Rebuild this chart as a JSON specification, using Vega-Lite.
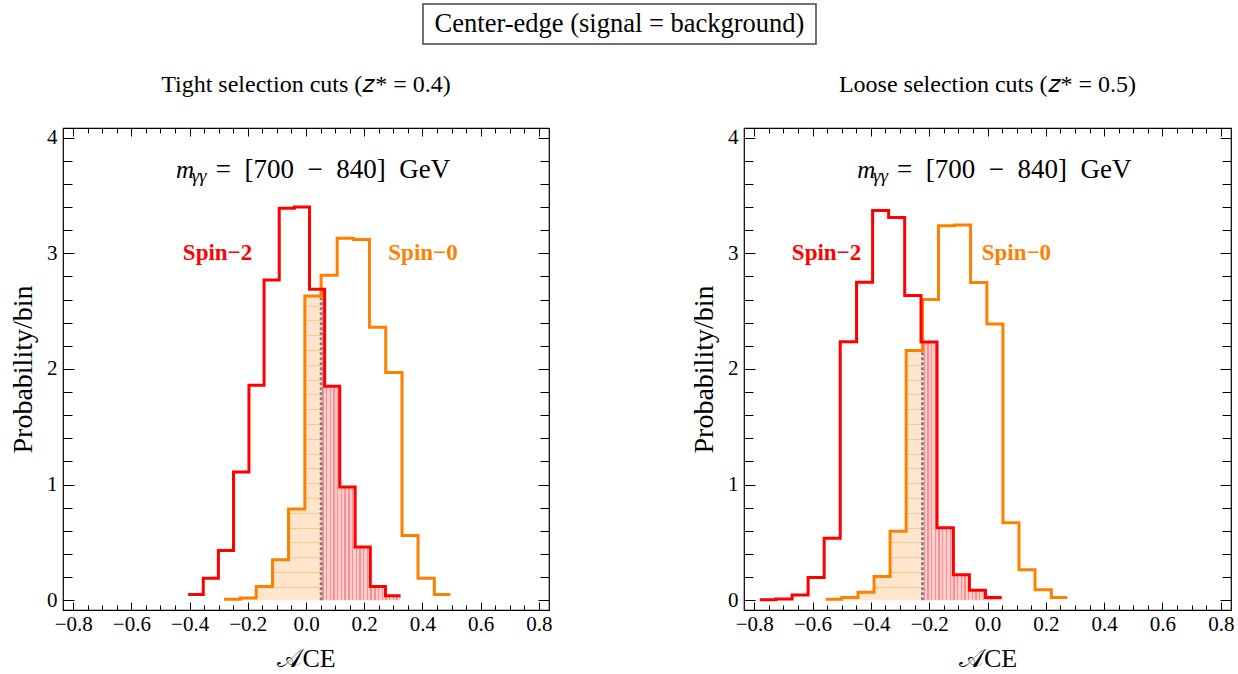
{
  "$schema": "https://vega.github.io/schema/vega-lite/v6.json",
  "background": "white",
  "padding": {"left": 8, "top": 3, "right": 5, "bottom": 0},
  "config": {
    "font": "Liberation Serif",
    "view": {"stroke": "#000", "strokeWidth": 1.2},
    "title": {"font": "Liberation Serif", "fontWeight": "normal", "color": "#000"},
    "axis": {"labelFont": "Liberation Serif", "titleFont": "Liberation Serif", "labelColor": "#000", "titleColor": "#000", "tickColor": "#000", "domain": false, "grid": false, "titleFontWeight": "normal", "labelFlush": false, "labelOverlap": false, "minExtent": 0}
  },
  "datasets": {
    "hist": [
      {"p": "L", "s": "Spin-2", "x": -0.405, "h": 0.05},
      {"p": "L", "s": "Spin-2", "x": -0.353, "h": 0.19},
      {"p": "L", "s": "Spin-2", "x": -0.301, "h": 0.43},
      {"p": "L", "s": "Spin-2", "x": -0.249, "h": 1.11},
      {"p": "L", "s": "Spin-2", "x": -0.196, "h": 1.86},
      {"p": "L", "s": "Spin-2", "x": -0.144, "h": 2.77},
      {"p": "L", "s": "Spin-2", "x": -0.092, "h": 3.39},
      {"p": "L", "s": "Spin-2", "x": -0.040, "h": 3.40},
      {"p": "L", "s": "Spin-2", "x": 0.012, "h": 2.69},
      {"p": "L", "s": "Spin-2", "x": 0.064, "h": 1.85},
      {"p": "L", "s": "Spin-2", "x": 0.116, "h": 0.98},
      {"p": "L", "s": "Spin-2", "x": 0.169, "h": 0.46},
      {"p": "L", "s": "Spin-2", "x": 0.221, "h": 0.12},
      {"p": "L", "s": "Spin-2", "x": 0.273, "h": 0.04},
      {"p": "L", "s": "Spin-2", "x": 0.325, "h": 0.04},
      {"p": "L", "s": "Spin-0", "x": -0.282, "h": 0.01},
      {"p": "L", "s": "Spin-0", "x": -0.226, "h": 0.02},
      {"p": "L", "s": "Spin-0", "x": -0.171, "h": 0.12},
      {"p": "L", "s": "Spin-0", "x": -0.115, "h": 0.35},
      {"p": "L", "s": "Spin-0", "x": -0.060, "h": 0.79},
      {"p": "L", "s": "Spin-0", "x": -0.004, "h": 2.63},
      {"p": "L", "s": "Spin-0", "x": 0.052, "h": 2.81},
      {"p": "L", "s": "Spin-0", "x": 0.107, "h": 3.13},
      {"p": "L", "s": "Spin-0", "x": 0.163, "h": 3.12},
      {"p": "L", "s": "Spin-0", "x": 0.218, "h": 2.36},
      {"p": "L", "s": "Spin-0", "x": 0.274, "h": 1.97},
      {"p": "L", "s": "Spin-0", "x": 0.330, "h": 0.56},
      {"p": "L", "s": "Spin-0", "x": 0.385, "h": 0.19},
      {"p": "L", "s": "Spin-0", "x": 0.441, "h": 0.05},
      {"p": "L", "s": "Spin-0", "x": 0.496, "h": 0.05},
      {"p": "R", "s": "Spin-2", "x": -0.781, "h": 0.005},
      {"p": "R", "s": "Spin-2", "x": -0.726, "h": 0.012},
      {"p": "R", "s": "Spin-2", "x": -0.670, "h": 0.045},
      {"p": "R", "s": "Spin-2", "x": -0.615, "h": 0.197},
      {"p": "R", "s": "Spin-2", "x": -0.560, "h": 0.536},
      {"p": "R", "s": "Spin-2", "x": -0.505, "h": 2.235},
      {"p": "R", "s": "Spin-2", "x": -0.449, "h": 2.75},
      {"p": "R", "s": "Spin-2", "x": -0.394, "h": 3.37},
      {"p": "R", "s": "Spin-2", "x": -0.339, "h": 3.31},
      {"p": "R", "s": "Spin-2", "x": -0.284, "h": 2.635},
      {"p": "R", "s": "Spin-2", "x": -0.228, "h": 2.232},
      {"p": "R", "s": "Spin-2", "x": -0.173, "h": 0.628},
      {"p": "R", "s": "Spin-2", "x": -0.117, "h": 0.22},
      {"p": "R", "s": "Spin-2", "x": -0.062, "h": 0.086},
      {"p": "R", "s": "Spin-2", "x": -0.007, "h": 0.025},
      {"p": "R", "s": "Spin-2", "x": 0.049, "h": 0.025},
      {"p": "R", "s": "Spin-0", "x": -0.555, "h": 0.01},
      {"p": "R", "s": "Spin-0", "x": -0.500, "h": 0.025},
      {"p": "R", "s": "Spin-0", "x": -0.444, "h": 0.07},
      {"p": "R", "s": "Spin-0", "x": -0.389, "h": 0.205},
      {"p": "R", "s": "Spin-0", "x": -0.334, "h": 0.597},
      {"p": "R", "s": "Spin-0", "x": -0.279, "h": 2.16},
      {"p": "R", "s": "Spin-0", "x": -0.223, "h": 2.6},
      {"p": "R", "s": "Spin-0", "x": -0.168, "h": 3.238},
      {"p": "R", "s": "Spin-0", "x": -0.113, "h": 3.245},
      {"p": "R", "s": "Spin-0", "x": -0.058, "h": 2.748},
      {"p": "R", "s": "Spin-0", "x": -0.002, "h": 2.388},
      {"p": "R", "s": "Spin-0", "x": 0.053, "h": 0.67},
      {"p": "R", "s": "Spin-0", "x": 0.108, "h": 0.264},
      {"p": "R", "s": "Spin-0", "x": 0.163, "h": 0.09},
      {"p": "R", "s": "Spin-0", "x": 0.219, "h": 0.025},
      {"p": "R", "s": "Spin-0", "x": 0.274, "h": 0.025}
    ],
    "shade": [
      {"p": "L", "s": "Spin-0", "x": -0.282, "h": 0.01},
      {"p": "L", "s": "Spin-0", "x": -0.226, "h": 0.02},
      {"p": "L", "s": "Spin-0", "x": -0.171, "h": 0.12},
      {"p": "L", "s": "Spin-0", "x": -0.115, "h": 0.35},
      {"p": "L", "s": "Spin-0", "x": -0.060, "h": 0.79},
      {"p": "L", "s": "Spin-0", "x": -0.004, "h": 2.63},
      {"p": "L", "s": "Spin-0", "x": 0.052, "h": 2.63},
      {"p": "L", "s": "Spin-2", "x": 0.052, "h": 2.69},
      {"p": "L", "s": "Spin-2", "x": 0.064, "h": 1.85},
      {"p": "L", "s": "Spin-2", "x": 0.116, "h": 0.98},
      {"p": "L", "s": "Spin-2", "x": 0.169, "h": 0.46},
      {"p": "L", "s": "Spin-2", "x": 0.221, "h": 0.12},
      {"p": "L", "s": "Spin-2", "x": 0.273, "h": 0.04},
      {"p": "L", "s": "Spin-2", "x": 0.325, "h": 0.04},
      {"p": "R", "s": "Spin-0", "x": -0.555, "h": 0.01},
      {"p": "R", "s": "Spin-0", "x": -0.500, "h": 0.025},
      {"p": "R", "s": "Spin-0", "x": -0.444, "h": 0.07},
      {"p": "R", "s": "Spin-0", "x": -0.389, "h": 0.205},
      {"p": "R", "s": "Spin-0", "x": -0.334, "h": 0.597},
      {"p": "R", "s": "Spin-0", "x": -0.279, "h": 2.16},
      {"p": "R", "s": "Spin-0", "x": -0.223, "h": 2.16},
      {"p": "R", "s": "Spin-2", "x": -0.223, "h": 2.232},
      {"p": "R", "s": "Spin-2", "x": -0.173, "h": 0.628},
      {"p": "R", "s": "Spin-2", "x": -0.117, "h": 0.22},
      {"p": "R", "s": "Spin-2", "x": -0.062, "h": 0.086},
      {"p": "R", "s": "Spin-2", "x": -0.007, "h": 0.025},
      {"p": "R", "s": "Spin-2", "x": 0.049, "h": 0.025}
    ],
    "cut": [
      {"p": "L", "x": 0.052, "lo": 0, "top": 2.69},
      {"p": "R", "x": -0.223, "lo": 0, "top": 2.232}
    ],
    "labels": [
      {"p": "L", "s": "Spin-2", "x": -0.304, "y": 3.0, "t": "Spin−2"},
      {"p": "L", "s": "Spin-0", "x": 0.402, "y": 3.0, "t": "Spin−0"},
      {"p": "R", "s": "Spin-2", "x": -0.552, "y": 3.0, "t": "Spin−2"},
      {"p": "R", "s": "Spin-0", "x": 0.099, "y": 3.0, "t": "Spin−0"}
    ],
    "mass": [
      {"p": "L", "k": "m", "x": -0.447, "y": 3.654, "t": "m"},
      {"p": "L", "k": "g", "x": -0.393, "y": 3.620, "t": "γγ"},
      {"p": "L", "k": "r", "x": -0.310, "y": 3.654, "t": "=\u2002[700\u2002−\u2002840]\u2002GeV"},
      {"p": "R", "k": "m", "x": -0.447, "y": 3.654, "t": "m"},
      {"p": "R", "k": "g", "x": -0.393, "y": 3.620, "t": "γγ"},
      {"p": "R", "k": "r", "x": -0.310, "y": 3.654, "t": "=\u2002[700\u2002−\u2002840]\u2002GeV"}
    ]
  },
  "spacing": 27,
  "vconcat": [
    {
      "spacing": 0,
      "hconcat": [
        {
          "width": 359,
          "height": 40,
          "view": {"stroke": null},
          "data": {"values": [{"t": ""}]},
          "mark": {"type": "text"},
          "encoding": {"text": {"field": "t"}}
        },
        {
          "width": 393,
          "height": 40,
          "view": {"stroke": "#444", "strokeWidth": 1.5},
          "data": {"values": [{"t": "Center-edge (signal = background)"}]},
          "mark": {"type": "text", "fontSize": 26.5, "font": "Liberation Serif", "color": "#000"},
          "encoding": {"text": {"field": "t"}}
        }
      ]
    },
    {
      "spacing": 136,
      "hconcat": [
        {
          "width": 486,
          "height": 482,
          "title": {"text": "Tight selection cuts (𝑧* = 0.4)", "fontSize": 24, "offset": 30},
          "resolve": {"axis": {"x": "independent", "y": "independent"}},
          "layer": [
            {
              "data": {"name": "shade"},
              "transform": [{"filter": "datum.p == 'L' && datum.s == 'Spin-0'"}],
              "mark": {"type": "area", "interpolate": "step-after", "color": {"gradient": "linear", "x1": 0, "y1": 1, "x2": 0, "y2": 0, "stops": [
                {"offset": 0, "color": "#FFE5CC"},
                {"offset": 0.0410, "color": "#FFE5CC"}, {"offset": 0.0410, "color": "#FFC98C"}, {"offset": 0.0444, "color": "#FFC98C"}, {"offset": 0.0444, "color": "#FFE5CC"},
                {"offset": 0.0897, "color": "#FFE5CC"}, {"offset": 0.0897, "color": "#FFC98C"}, {"offset": 0.0931, "color": "#FFC98C"}, {"offset": 0.0931, "color": "#FFE5CC"},
                {"offset": 0.1383, "color": "#FFE5CC"}, {"offset": 0.1383, "color": "#FFC98C"}, {"offset": 0.1417, "color": "#FFC98C"}, {"offset": 0.1417, "color": "#FFE5CC"},
                {"offset": 0.1870, "color": "#FFE5CC"}, {"offset": 0.1870, "color": "#FFC98C"}, {"offset": 0.1904, "color": "#FFC98C"}, {"offset": 0.1904, "color": "#FFE5CC"},
                {"offset": 0.2356, "color": "#FFE5CC"}, {"offset": 0.2356, "color": "#FFC98C"}, {"offset": 0.2390, "color": "#FFC98C"}, {"offset": 0.2390, "color": "#FFE5CC"},
                {"offset": 0.2843, "color": "#FFE5CC"}, {"offset": 0.2843, "color": "#FFC98C"}, {"offset": 0.2877, "color": "#FFC98C"}, {"offset": 0.2877, "color": "#FFE5CC"},
                {"offset": 0.3329, "color": "#FFE5CC"}, {"offset": 0.3329, "color": "#FFC98C"}, {"offset": 0.3363, "color": "#FFC98C"}, {"offset": 0.3363, "color": "#FFE5CC"},
                {"offset": 0.3816, "color": "#FFE5CC"}, {"offset": 0.3816, "color": "#FFC98C"}, {"offset": 0.3850, "color": "#FFC98C"}, {"offset": 0.3850, "color": "#FFE5CC"},
                {"offset": 0.4303, "color": "#FFE5CC"}, {"offset": 0.4303, "color": "#FFC98C"}, {"offset": 0.4337, "color": "#FFC98C"}, {"offset": 0.4337, "color": "#FFE5CC"},
                {"offset": 0.4789, "color": "#FFE5CC"}, {"offset": 0.4789, "color": "#FFC98C"}, {"offset": 0.4823, "color": "#FFC98C"}, {"offset": 0.4823, "color": "#FFE5CC"},
                {"offset": 0.5276, "color": "#FFE5CC"}, {"offset": 0.5276, "color": "#FFC98C"}, {"offset": 0.5310, "color": "#FFC98C"}, {"offset": 0.5310, "color": "#FFE5CC"},
                {"offset": 0.5762, "color": "#FFE5CC"}, {"offset": 0.5762, "color": "#FFC98C"}, {"offset": 0.5796, "color": "#FFC98C"}, {"offset": 0.5796, "color": "#FFE5CC"},
                {"offset": 0.6249, "color": "#FFE5CC"}, {"offset": 0.6249, "color": "#FFC98C"}, {"offset": 0.6283, "color": "#FFC98C"}, {"offset": 0.6283, "color": "#FFE5CC"},
                {"offset": 0.6735, "color": "#FFE5CC"}, {"offset": 0.6735, "color": "#FFC98C"}, {"offset": 0.6769, "color": "#FFC98C"}, {"offset": 0.6769, "color": "#FFE5CC"},
                {"offset": 0.7222, "color": "#FFE5CC"}, {"offset": 0.7222, "color": "#FFC98C"}, {"offset": 0.7256, "color": "#FFC98C"}, {"offset": 0.7256, "color": "#FFE5CC"},
                {"offset": 0.7708, "color": "#FFE5CC"}, {"offset": 0.7708, "color": "#FFC98C"}, {"offset": 0.7742, "color": "#FFC98C"}, {"offset": 0.7742, "color": "#FFE5CC"},
                {"offset": 0.8195, "color": "#FFE5CC"}, {"offset": 0.8195, "color": "#FFC98C"}, {"offset": 0.8229, "color": "#FFC98C"}, {"offset": 0.8229, "color": "#FFE5CC"},
                {"offset": 0.8681, "color": "#FFE5CC"}, {"offset": 0.8681, "color": "#FFC98C"}, {"offset": 0.8715, "color": "#FFC98C"}, {"offset": 0.8715, "color": "#FFE5CC"},
                {"offset": 0.9168, "color": "#FFE5CC"}, {"offset": 0.9168, "color": "#FFC98C"}, {"offset": 0.9202, "color": "#FFC98C"}, {"offset": 0.9202, "color": "#FFE5CC"},
                {"offset": 0.9654, "color": "#FFE5CC"}, {"offset": 0.9654, "color": "#FFC98C"}, {"offset": 0.9688, "color": "#FFC98C"}, {"offset": 0.9688, "color": "#FFE5CC"},
                {"offset": 1, "color": "#FFE5CC"}
              ]}},
              "encoding": {
                "x": {"field": "x", "type": "quantitative", "scale": {"domain": [-0.835, 0.835], "nice": false, "zero": false},
                  "axis": {"orient": "bottom", "values": [-0.8,-0.75,-0.7,-0.65,-0.6,-0.55,-0.5,-0.45,-0.4,-0.35,-0.3,-0.25,-0.2,-0.15,-0.1,-0.05,0,0.05,0.1,0.15,0.2,0.25,0.3,0.35,0.4,0.45,0.5,0.55,0.6,0.65,0.7,0.75,0.8],
                    "tickSize": {"condition": {"test": "abs(datum.value*5-round(datum.value*5))<0.001", "value": -8}, "value": -5},
                    "labelExpr": "abs(datum.value*5-round(datum.value*5))<0.001 ? format(datum.value,'.1f') : ''",
                    "labelPadding": 11, "labelFontSize": 21, "title": "𝒜CE", "titleFontSize": 26, "titlePadding": 8}},
                "y": {"field": "h", "type": "quantitative", "scale": {"domain": [-0.084, 4.083], "nice": false, "zero": false},
                  "axis": {"orient": "left", "values": [0,0.2,0.4,0.6,0.8,1,1.2,1.4,1.6,1.8,2,2.2,2.4,2.6,2.8,3,3.2,3.4,3.6,3.8,4],
                    "tickSize": {"condition": {"test": "abs(datum.value-round(datum.value))<0.001", "value": -11}, "value": -9},
                    "labelExpr": "abs(datum.value-round(datum.value))<0.001 ? format(datum.value,'d') : ''",
                    "labelPadding": 17, "labelFontSize": 21, "title": "Probability/bin", "titleFontSize": 28, "titlePadding": 9}}
              }
            },
            {
              "data": {"name": "shade"},
              "transform": [{"filter": "datum.p == 'L' && datum.s == 'Spin-2'"}],
              "mark": {"type": "area", "interpolate": "step-after", "color": {"gradient": "linear", "x1": 0, "y1": 0, "x2": 1, "y2": 0, "stops": [
                {"offset": 0, "color": "#FFCFCF"},
                {"offset": 0.0142, "color": "#FFCFCF"}, {"offset": 0.0142, "color": "#FF8F8F"}, {"offset": 0.0312, "color": "#FF8F8F"}, {"offset": 0.0312, "color": "#FFCFCF"},
                {"offset": 0.0609, "color": "#FFCFCF"}, {"offset": 0.0609, "color": "#FF8F8F"}, {"offset": 0.0779, "color": "#FF8F8F"}, {"offset": 0.0779, "color": "#FFCFCF"},
                {"offset": 0.1075, "color": "#FFCFCF"}, {"offset": 0.1075, "color": "#FF8F8F"}, {"offset": 0.1245, "color": "#FF8F8F"}, {"offset": 0.1245, "color": "#FFCFCF"},
                {"offset": 0.1542, "color": "#FFCFCF"}, {"offset": 0.1542, "color": "#FF8F8F"}, {"offset": 0.1712, "color": "#FF8F8F"}, {"offset": 0.1712, "color": "#FFCFCF"},
                {"offset": 0.2008, "color": "#FFCFCF"}, {"offset": 0.2008, "color": "#FF8F8F"}, {"offset": 0.2178, "color": "#FF8F8F"}, {"offset": 0.2178, "color": "#FFCFCF"},
                {"offset": 0.2475, "color": "#FFCFCF"}, {"offset": 0.2475, "color": "#FF8F8F"}, {"offset": 0.2645, "color": "#FF8F8F"}, {"offset": 0.2645, "color": "#FFCFCF"},
                {"offset": 0.2941, "color": "#FFCFCF"}, {"offset": 0.2941, "color": "#FF8F8F"}, {"offset": 0.3111, "color": "#FF8F8F"}, {"offset": 0.3111, "color": "#FFCFCF"},
                {"offset": 0.3408, "color": "#FFCFCF"}, {"offset": 0.3408, "color": "#FF8F8F"}, {"offset": 0.3578, "color": "#FF8F8F"}, {"offset": 0.3578, "color": "#FFCFCF"},
                {"offset": 0.3875, "color": "#FFCFCF"}, {"offset": 0.3875, "color": "#FF8F8F"}, {"offset": 0.4045, "color": "#FF8F8F"}, {"offset": 0.4045, "color": "#FFCFCF"},
                {"offset": 0.4341, "color": "#FFCFCF"}, {"offset": 0.4341, "color": "#FF8F8F"}, {"offset": 0.4511, "color": "#FF8F8F"}, {"offset": 0.4511, "color": "#FFCFCF"},
                {"offset": 0.4808, "color": "#FFCFCF"}, {"offset": 0.4808, "color": "#FF8F8F"}, {"offset": 0.4978, "color": "#FF8F8F"}, {"offset": 0.4978, "color": "#FFCFCF"},
                {"offset": 0.5274, "color": "#FFCFCF"}, {"offset": 0.5274, "color": "#FF8F8F"}, {"offset": 0.5444, "color": "#FF8F8F"}, {"offset": 0.5444, "color": "#FFCFCF"},
                {"offset": 0.5741, "color": "#FFCFCF"}, {"offset": 0.5741, "color": "#FF8F8F"}, {"offset": 0.5911, "color": "#FF8F8F"}, {"offset": 0.5911, "color": "#FFCFCF"},
                {"offset": 0.6208, "color": "#FFCFCF"}, {"offset": 0.6208, "color": "#FF8F8F"}, {"offset": 0.6378, "color": "#FF8F8F"}, {"offset": 0.6378, "color": "#FFCFCF"},
                {"offset": 0.6674, "color": "#FFCFCF"}, {"offset": 0.6674, "color": "#FF8F8F"}, {"offset": 0.6844, "color": "#FF8F8F"}, {"offset": 0.6844, "color": "#FFCFCF"},
                {"offset": 0.7141, "color": "#FFCFCF"}, {"offset": 0.7141, "color": "#FF8F8F"}, {"offset": 0.7311, "color": "#FF8F8F"}, {"offset": 0.7311, "color": "#FFCFCF"},
                {"offset": 0.7607, "color": "#FFCFCF"}, {"offset": 0.7607, "color": "#FF8F8F"}, {"offset": 0.7777, "color": "#FF8F8F"}, {"offset": 0.7777, "color": "#FFCFCF"},
                {"offset": 0.8074, "color": "#FFCFCF"}, {"offset": 0.8074, "color": "#FF8F8F"}, {"offset": 0.8244, "color": "#FF8F8F"}, {"offset": 0.8244, "color": "#FFCFCF"},
                {"offset": 0.8540, "color": "#FFCFCF"}, {"offset": 0.8540, "color": "#FF8F8F"}, {"offset": 0.8710, "color": "#FF8F8F"}, {"offset": 0.8710, "color": "#FFCFCF"},
                {"offset": 0.9007, "color": "#FFCFCF"}, {"offset": 0.9007, "color": "#FF8F8F"}, {"offset": 0.9177, "color": "#FF8F8F"}, {"offset": 0.9177, "color": "#FFCFCF"},
                {"offset": 0.9474, "color": "#FFCFCF"}, {"offset": 0.9474, "color": "#FF8F8F"}, {"offset": 0.9644, "color": "#FF8F8F"}, {"offset": 0.9644, "color": "#FFCFCF"},
                {"offset": 1, "color": "#FFCFCF"}
              ]}},
              "encoding": {
                "x": {"field": "x", "type": "quantitative",
                  "axis": {"orient": "top", "values": [-0.8,-0.75,-0.7,-0.65,-0.6,-0.55,-0.5,-0.45,-0.4,-0.35,-0.3,-0.25,-0.2,-0.15,-0.1,-0.05,0,0.05,0.1,0.15,0.2,0.25,0.3,0.35,0.4,0.45,0.5,0.55,0.6,0.65,0.7,0.75,0.8],
                    "tickSize": {"condition": {"test": "abs(datum.value*5-round(datum.value*5))<0.001", "value": -8}, "value": -5},
                    "labels": false, "title": null}},
                "y": {"field": "h", "type": "quantitative",
                  "axis": {"orient": "right", "values": [0,0.2,0.4,0.6,0.8,1,1.2,1.4,1.6,1.8,2,2.2,2.4,2.6,2.8,3,3.2,3.4,3.6,3.8,4],
                    "tickSize": {"condition": {"test": "abs(datum.value-round(datum.value))<0.001", "value": -11}, "value": -9},
                    "labels": false, "title": null}}
              }
            },
            {
              "data": {"name": "cut"},
              "transform": [{"filter": "datum.p == 'L'"}],
              "mark": {"type": "rule", "color": "#808080", "strokeWidth": 2.8, "strokeDash": [3, 2]},
              "encoding": {
                "x": {"field": "x", "type": "quantitative", "axis": null},
                "y": {"field": "lo", "type": "quantitative", "axis": null},
                "y2": {"field": "top"}
              }
            },
            {
              "data": {"name": "hist"},
              "transform": [{"filter": "datum.p == 'L' && datum.s == 'Spin-0'"}],
              "mark": {"type": "line", "interpolate": "step-after", "color": "#FF8000", "strokeWidth": 3},
              "encoding": {
                "x": {"field": "x", "type": "quantitative", "axis": null},
                "y": {"field": "h", "type": "quantitative", "axis": null}
              }
            },
            {
              "data": {"name": "hist"},
              "transform": [{"filter": "datum.p == 'L' && datum.s == 'Spin-2'"}],
              "mark": {"type": "line", "interpolate": "step-after", "color": "#FF0000", "strokeWidth": 3},
              "encoding": {
                "x": {"field": "x", "type": "quantitative", "axis": null},
                "y": {"field": "h", "type": "quantitative", "axis": null}
              }
            },
            {
              "data": {"name": "labels"},
              "transform": [{"filter": "datum.p == 'L'"}],
              "mark": {"type": "text", "fontSize": 23, "fontWeight": "bold", "font": "Liberation Serif"},
              "encoding": {
                "x": {"field": "x", "type": "quantitative", "axis": null},
                "y": {"field": "y", "type": "quantitative", "axis": null},
                "text": {"field": "t"},
                "color": {"field": "s", "type": "nominal", "scale": {"domain": ["Spin-2", "Spin-0"], "range": ["#FF0000", "#FF8000"]}, "legend": null}
              }
            },
            {
              "data": {"name": "mass"},
              "transform": [{"filter": "datum.p == 'L' && datum.k == 'm'"}],
              "mark": {"type": "text", "fontSize": 25, "font": "Liberation Serif", "fontStyle": "italic", "align": "left", "baseline": "alphabetic", "color": "#000"},
              "encoding": {
                "x": {"field": "x", "type": "quantitative", "axis": null},
                "y": {"field": "y", "type": "quantitative", "axis": null},
                "text": {"field": "t"}
              }
            },
            {
              "data": {"name": "mass"},
              "transform": [{"filter": "datum.p == 'L' && datum.k == 'g'"}],
              "mark": {"type": "text", "fontSize": 19, "font": "Liberation Serif", "fontStyle": "italic", "align": "left", "baseline": "alphabetic", "color": "#000"},
              "encoding": {
                "x": {"field": "x", "type": "quantitative", "axis": null},
                "y": {"field": "y", "type": "quantitative", "axis": null},
                "text": {"field": "t"}
              }
            },
            {
              "data": {"name": "mass"},
              "transform": [{"filter": "datum.p == 'L' && datum.k == 'r'"}],
              "mark": {"type": "text", "fontSize": 27, "font": "Liberation Serif", "align": "left", "baseline": "alphabetic", "color": "#000"},
              "encoding": {
                "x": {"field": "x", "type": "quantitative", "axis": null},
                "y": {"field": "y", "type": "quantitative", "axis": null},
                "text": {"field": "t"}
              }
            }
          ]
        },
        {
          "width": 487,
          "height": 482,
          "title": {"text": "Loose selection cuts (𝑧* = 0.5)", "fontSize": 24, "offset": 30},
          "resolve": {"axis": {"x": "independent", "y": "independent"}},
          "layer": [
            {
              "data": {"name": "shade"},
              "transform": [{"filter": "datum.p == 'R' && datum.s == 'Spin-0'"}],
              "mark": {"type": "area", "interpolate": "step-after", "color": {"gradient": "linear", "x1": 0, "y1": 1, "x2": 0, "y2": 0, "stops": [
                {"offset": 0, "color": "#FFE5CC"},
                {"offset": 0.0500, "color": "#FFE5CC"}, {"offset": 0.0500, "color": "#FFC98C"}, {"offset": 0.0540, "color": "#FFC98C"}, {"offset": 0.0540, "color": "#FFE5CC"},
                {"offset": 0.1093, "color": "#FFE5CC"}, {"offset": 0.1093, "color": "#FFC98C"}, {"offset": 0.1133, "color": "#FFC98C"}, {"offset": 0.1133, "color": "#FFE5CC"},
                {"offset": 0.1685, "color": "#FFE5CC"}, {"offset": 0.1685, "color": "#FFC98C"}, {"offset": 0.1725, "color": "#FFC98C"}, {"offset": 0.1725, "color": "#FFE5CC"},
                {"offset": 0.2278, "color": "#FFE5CC"}, {"offset": 0.2278, "color": "#FFC98C"}, {"offset": 0.2318, "color": "#FFC98C"}, {"offset": 0.2318, "color": "#FFE5CC"},
                {"offset": 0.2870, "color": "#FFE5CC"}, {"offset": 0.2870, "color": "#FFC98C"}, {"offset": 0.2910, "color": "#FFC98C"}, {"offset": 0.2910, "color": "#FFE5CC"},
                {"offset": 0.3463, "color": "#FFE5CC"}, {"offset": 0.3463, "color": "#FFC98C"}, {"offset": 0.3503, "color": "#FFC98C"}, {"offset": 0.3503, "color": "#FFE5CC"},
                {"offset": 0.4055, "color": "#FFE5CC"}, {"offset": 0.4055, "color": "#FFC98C"}, {"offset": 0.4095, "color": "#FFC98C"}, {"offset": 0.4095, "color": "#FFE5CC"},
                {"offset": 0.4648, "color": "#FFE5CC"}, {"offset": 0.4648, "color": "#FFC98C"}, {"offset": 0.4688, "color": "#FFC98C"}, {"offset": 0.4688, "color": "#FFE5CC"},
                {"offset": 0.5240, "color": "#FFE5CC"}, {"offset": 0.5240, "color": "#FFC98C"}, {"offset": 0.5280, "color": "#FFC98C"}, {"offset": 0.5280, "color": "#FFE5CC"},
                {"offset": 0.5833, "color": "#FFE5CC"}, {"offset": 0.5833, "color": "#FFC98C"}, {"offset": 0.5873, "color": "#FFC98C"}, {"offset": 0.5873, "color": "#FFE5CC"},
                {"offset": 0.6425, "color": "#FFE5CC"}, {"offset": 0.6425, "color": "#FFC98C"}, {"offset": 0.6465, "color": "#FFC98C"}, {"offset": 0.6465, "color": "#FFE5CC"},
                {"offset": 0.7018, "color": "#FFE5CC"}, {"offset": 0.7018, "color": "#FFC98C"}, {"offset": 0.7058, "color": "#FFC98C"}, {"offset": 0.7058, "color": "#FFE5CC"},
                {"offset": 0.7610, "color": "#FFE5CC"}, {"offset": 0.7610, "color": "#FFC98C"}, {"offset": 0.7650, "color": "#FFC98C"}, {"offset": 0.7650, "color": "#FFE5CC"},
                {"offset": 0.8203, "color": "#FFE5CC"}, {"offset": 0.8203, "color": "#FFC98C"}, {"offset": 0.8243, "color": "#FFC98C"}, {"offset": 0.8243, "color": "#FFE5CC"},
                {"offset": 0.8795, "color": "#FFE5CC"}, {"offset": 0.8795, "color": "#FFC98C"}, {"offset": 0.8835, "color": "#FFC98C"}, {"offset": 0.8835, "color": "#FFE5CC"},
                {"offset": 0.9388, "color": "#FFE5CC"}, {"offset": 0.9388, "color": "#FFC98C"}, {"offset": 0.9428, "color": "#FFC98C"}, {"offset": 0.9428, "color": "#FFE5CC"},
                {"offset": 1, "color": "#FFE5CC"}
              ]}},
              "encoding": {
                "x": {"field": "x", "type": "quantitative", "scale": {"domain": [-0.835, 0.835], "nice": false, "zero": false},
                  "axis": {"orient": "bottom", "values": [-0.8,-0.75,-0.7,-0.65,-0.6,-0.55,-0.5,-0.45,-0.4,-0.35,-0.3,-0.25,-0.2,-0.15,-0.1,-0.05,0,0.05,0.1,0.15,0.2,0.25,0.3,0.35,0.4,0.45,0.5,0.55,0.6,0.65,0.7,0.75,0.8],
                    "tickSize": {"condition": {"test": "abs(datum.value*5-round(datum.value*5))<0.001", "value": -8}, "value": -5},
                    "labelExpr": "abs(datum.value*5-round(datum.value*5))<0.001 ? format(datum.value,'.1f') : ''",
                    "labelPadding": 11, "labelFontSize": 21, "title": "𝒜CE", "titleFontSize": 26, "titlePadding": 8}},
                "y": {"field": "h", "type": "quantitative", "scale": {"domain": [-0.084, 4.083], "nice": false, "zero": false},
                  "axis": {"orient": "left", "values": [0,0.2,0.4,0.6,0.8,1,1.2,1.4,1.6,1.8,2,2.2,2.4,2.6,2.8,3,3.2,3.4,3.6,3.8,4],
                    "tickSize": {"condition": {"test": "abs(datum.value-round(datum.value))<0.001", "value": -11}, "value": -9},
                    "labelExpr": "abs(datum.value-round(datum.value))<0.001 ? format(datum.value,'d') : ''",
                    "labelPadding": 17, "labelFontSize": 21, "title": "Probability/bin", "titleFontSize": 28, "titlePadding": 9}}
              }
            },
            {
              "data": {"name": "shade"},
              "transform": [{"filter": "datum.p == 'R' && datum.s == 'Spin-2'"}],
              "mark": {"type": "area", "interpolate": "step-after", "color": {"gradient": "linear", "x1": 0, "y1": 0, "x2": 1, "y2": 0, "stops": [
                {"offset": 0, "color": "#FFCFCF"},
                {"offset": 0.0142, "color": "#FFCFCF"}, {"offset": 0.0142, "color": "#FF8F8F"}, {"offset": 0.0312, "color": "#FF8F8F"}, {"offset": 0.0312, "color": "#FFCFCF"},
                {"offset": 0.0609, "color": "#FFCFCF"}, {"offset": 0.0609, "color": "#FF8F8F"}, {"offset": 0.0779, "color": "#FF8F8F"}, {"offset": 0.0779, "color": "#FFCFCF"},
                {"offset": 0.1075, "color": "#FFCFCF"}, {"offset": 0.1075, "color": "#FF8F8F"}, {"offset": 0.1245, "color": "#FF8F8F"}, {"offset": 0.1245, "color": "#FFCFCF"},
                {"offset": 0.1542, "color": "#FFCFCF"}, {"offset": 0.1542, "color": "#FF8F8F"}, {"offset": 0.1712, "color": "#FF8F8F"}, {"offset": 0.1712, "color": "#FFCFCF"},
                {"offset": 0.2008, "color": "#FFCFCF"}, {"offset": 0.2008, "color": "#FF8F8F"}, {"offset": 0.2178, "color": "#FF8F8F"}, {"offset": 0.2178, "color": "#FFCFCF"},
                {"offset": 0.2475, "color": "#FFCFCF"}, {"offset": 0.2475, "color": "#FF8F8F"}, {"offset": 0.2645, "color": "#FF8F8F"}, {"offset": 0.2645, "color": "#FFCFCF"},
                {"offset": 0.2941, "color": "#FFCFCF"}, {"offset": 0.2941, "color": "#FF8F8F"}, {"offset": 0.3111, "color": "#FF8F8F"}, {"offset": 0.3111, "color": "#FFCFCF"},
                {"offset": 0.3408, "color": "#FFCFCF"}, {"offset": 0.3408, "color": "#FF8F8F"}, {"offset": 0.3578, "color": "#FF8F8F"}, {"offset": 0.3578, "color": "#FFCFCF"},
                {"offset": 0.3875, "color": "#FFCFCF"}, {"offset": 0.3875, "color": "#FF8F8F"}, {"offset": 0.4045, "color": "#FF8F8F"}, {"offset": 0.4045, "color": "#FFCFCF"},
                {"offset": 0.4341, "color": "#FFCFCF"}, {"offset": 0.4341, "color": "#FF8F8F"}, {"offset": 0.4511, "color": "#FF8F8F"}, {"offset": 0.4511, "color": "#FFCFCF"},
                {"offset": 0.4808, "color": "#FFCFCF"}, {"offset": 0.4808, "color": "#FF8F8F"}, {"offset": 0.4978, "color": "#FF8F8F"}, {"offset": 0.4978, "color": "#FFCFCF"},
                {"offset": 0.5274, "color": "#FFCFCF"}, {"offset": 0.5274, "color": "#FF8F8F"}, {"offset": 0.5444, "color": "#FF8F8F"}, {"offset": 0.5444, "color": "#FFCFCF"},
                {"offset": 0.5741, "color": "#FFCFCF"}, {"offset": 0.5741, "color": "#FF8F8F"}, {"offset": 0.5911, "color": "#FF8F8F"}, {"offset": 0.5911, "color": "#FFCFCF"},
                {"offset": 0.6208, "color": "#FFCFCF"}, {"offset": 0.6208, "color": "#FF8F8F"}, {"offset": 0.6378, "color": "#FF8F8F"}, {"offset": 0.6378, "color": "#FFCFCF"},
                {"offset": 0.6674, "color": "#FFCFCF"}, {"offset": 0.6674, "color": "#FF8F8F"}, {"offset": 0.6844, "color": "#FF8F8F"}, {"offset": 0.6844, "color": "#FFCFCF"},
                {"offset": 0.7141, "color": "#FFCFCF"}, {"offset": 0.7141, "color": "#FF8F8F"}, {"offset": 0.7311, "color": "#FF8F8F"}, {"offset": 0.7311, "color": "#FFCFCF"},
                {"offset": 0.7607, "color": "#FFCFCF"}, {"offset": 0.7607, "color": "#FF8F8F"}, {"offset": 0.7777, "color": "#FF8F8F"}, {"offset": 0.7777, "color": "#FFCFCF"},
                {"offset": 0.8074, "color": "#FFCFCF"}, {"offset": 0.8074, "color": "#FF8F8F"}, {"offset": 0.8244, "color": "#FF8F8F"}, {"offset": 0.8244, "color": "#FFCFCF"},
                {"offset": 0.8540, "color": "#FFCFCF"}, {"offset": 0.8540, "color": "#FF8F8F"}, {"offset": 0.8710, "color": "#FF8F8F"}, {"offset": 0.8710, "color": "#FFCFCF"},
                {"offset": 0.9007, "color": "#FFCFCF"}, {"offset": 0.9007, "color": "#FF8F8F"}, {"offset": 0.9177, "color": "#FF8F8F"}, {"offset": 0.9177, "color": "#FFCFCF"},
                {"offset": 0.9474, "color": "#FFCFCF"}, {"offset": 0.9474, "color": "#FF8F8F"}, {"offset": 0.9644, "color": "#FF8F8F"}, {"offset": 0.9644, "color": "#FFCFCF"},
                {"offset": 1, "color": "#FFCFCF"}
              ]}},
              "encoding": {
                "x": {"field": "x", "type": "quantitative",
                  "axis": {"orient": "top", "values": [-0.8,-0.75,-0.7,-0.65,-0.6,-0.55,-0.5,-0.45,-0.4,-0.35,-0.3,-0.25,-0.2,-0.15,-0.1,-0.05,0,0.05,0.1,0.15,0.2,0.25,0.3,0.35,0.4,0.45,0.5,0.55,0.6,0.65,0.7,0.75,0.8],
                    "tickSize": {"condition": {"test": "abs(datum.value*5-round(datum.value*5))<0.001", "value": -8}, "value": -5},
                    "labels": false, "title": null}},
                "y": {"field": "h", "type": "quantitative",
                  "axis": {"orient": "right", "values": [0,0.2,0.4,0.6,0.8,1,1.2,1.4,1.6,1.8,2,2.2,2.4,2.6,2.8,3,3.2,3.4,3.6,3.8,4],
                    "tickSize": {"condition": {"test": "abs(datum.value-round(datum.value))<0.001", "value": -11}, "value": -9},
                    "labels": false, "title": null}}
              }
            },
            {
              "data": {"name": "cut"},
              "transform": [{"filter": "datum.p == 'R'"}],
              "mark": {"type": "rule", "color": "#808080", "strokeWidth": 2.8, "strokeDash": [3, 2]},
              "encoding": {
                "x": {"field": "x", "type": "quantitative", "axis": null},
                "y": {"field": "lo", "type": "quantitative", "axis": null},
                "y2": {"field": "top"}
              }
            },
            {
              "data": {"name": "hist"},
              "transform": [{"filter": "datum.p == 'R' && datum.s == 'Spin-0'"}],
              "mark": {"type": "line", "interpolate": "step-after", "color": "#FF8000", "strokeWidth": 3},
              "encoding": {
                "x": {"field": "x", "type": "quantitative", "axis": null},
                "y": {"field": "h", "type": "quantitative", "axis": null}
              }
            },
            {
              "data": {"name": "hist"},
              "transform": [{"filter": "datum.p == 'R' && datum.s == 'Spin-2'"}],
              "mark": {"type": "line", "interpolate": "step-after", "color": "#FF0000", "strokeWidth": 3},
              "encoding": {
                "x": {"field": "x", "type": "quantitative", "axis": null},
                "y": {"field": "h", "type": "quantitative", "axis": null}
              }
            },
            {
              "data": {"name": "labels"},
              "transform": [{"filter": "datum.p == 'R'"}],
              "mark": {"type": "text", "fontSize": 23, "fontWeight": "bold", "font": "Liberation Serif"},
              "encoding": {
                "x": {"field": "x", "type": "quantitative", "axis": null},
                "y": {"field": "y", "type": "quantitative", "axis": null},
                "text": {"field": "t"},
                "color": {"field": "s", "type": "nominal", "scale": {"domain": ["Spin-2", "Spin-0"], "range": ["#FF0000", "#FF8000"]}, "legend": null}
              }
            },
            {
              "data": {"name": "mass"},
              "transform": [{"filter": "datum.p == 'R' && datum.k == 'm'"}],
              "mark": {"type": "text", "fontSize": 25, "font": "Liberation Serif", "fontStyle": "italic", "align": "left", "baseline": "alphabetic", "color": "#000"},
              "encoding": {
                "x": {"field": "x", "type": "quantitative", "axis": null},
                "y": {"field": "y", "type": "quantitative", "axis": null},
                "text": {"field": "t"}
              }
            },
            {
              "data": {"name": "mass"},
              "transform": [{"filter": "datum.p == 'R' && datum.k == 'g'"}],
              "mark": {"type": "text", "fontSize": 19, "font": "Liberation Serif", "fontStyle": "italic", "align": "left", "baseline": "alphabetic", "color": "#000"},
              "encoding": {
                "x": {"field": "x", "type": "quantitative", "axis": null},
                "y": {"field": "y", "type": "quantitative", "axis": null},
                "text": {"field": "t"}
              }
            },
            {
              "data": {"name": "mass"},
              "transform": [{"filter": "datum.p == 'R' && datum.k == 'r'"}],
              "mark": {"type": "text", "fontSize": 27, "font": "Liberation Serif", "align": "left", "baseline": "alphabetic", "color": "#000"},
              "encoding": {
                "x": {"field": "x", "type": "quantitative", "axis": null},
                "y": {"field": "y", "type": "quantitative", "axis": null},
                "text": {"field": "t"}
              }
            }
          ]
        }
      ]
    }
  ]
}
